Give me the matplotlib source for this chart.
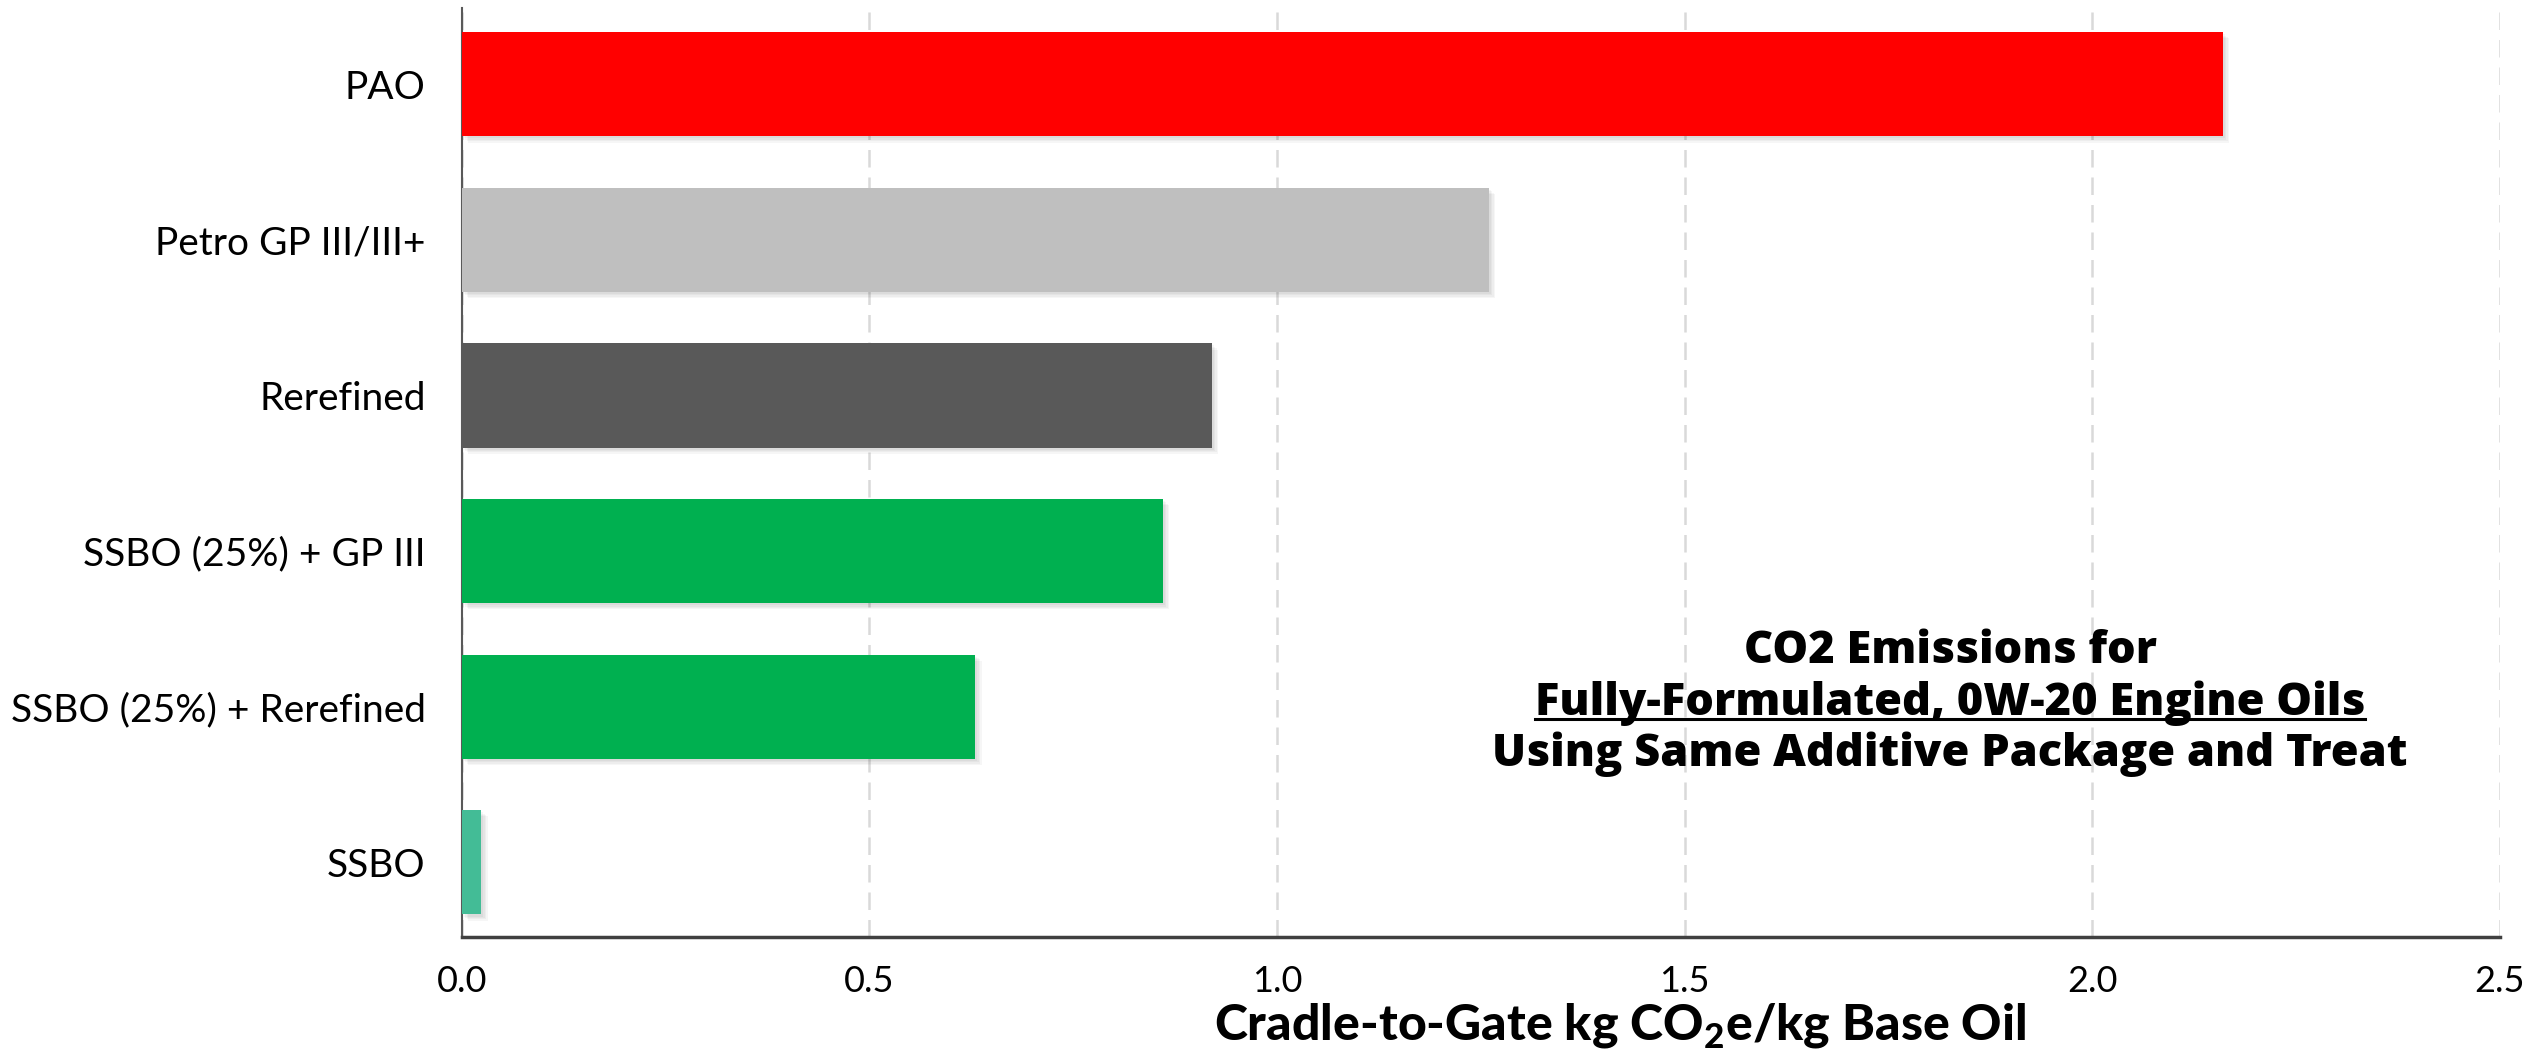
import matplotlib
matplotlib.use('Agg')
import matplotlib.pyplot as plt
import matplotlib.patheffects as pe
from matplotlib.lines import Line2D

# data
categories = ['PAO', 'Petro GP III/III+', 'Rerefined', 'SSBO (25%) + GP III',
              'SSBO (25%) + Rerefined', 'SSBO']
values = [2.16, 1.26, 0.92, 0.86, 0.63, 0.024]
colors = ['#FF0000', '#BFBFBF', '#595959', '#00B050', '#00B050', '#43BC96']
xticks = [0.0, 0.5, 1.0, 1.5, 2.0, 2.5]

note_lines = ['CO2 Emissions for',
              'Fully-Formulated, 0W-20 Engine Oils',
              'Using Same Additive Package and Treat']

plt.rcParams['font.family'] = ['Lato', 'DejaVu Sans']
plt.rcParams['mathtext.fontset'] = 'custom'
plt.rcParams['mathtext.rm'] = 'Lato'
plt.rcParams['mathtext.bf'] = 'Lato:black'

W, H = 2539, 1049
fig = plt.figure(figsize=(W / 100, H / 100), dpi=100)
ax = fig.add_axes([461.7 / W, 1 - 937 / H, (2500 - 461.7) / W, 929 / H])

# soft drop shadow, faked with a few offset layers
shadow = [pe.SimplePatchShadow(offset=(d, -d), shadow_rgbFace='k', alpha=0.035)
          for d in (1.5, 2.5, 3.5, 4.5)] + [pe.Normal()]

ypos = list(range(len(categories)))
bars = ax.barh(ypos, values, height=0.67, color=colors, zorder=3)
for b in bars:
    b.set_path_effects(shadow)

ax.set_xlim(0, 2.5)
ax.set_ylim(5.48, -0.49)
ax.set_xticks(xticks)
ax.set_xticklabels(['%.1f' % t for t in xticks])
ax.set_yticks(ypos)
ax.set_yticklabels(categories)
ax.tick_params(axis='both', length=0, colors='black')
ax.tick_params(axis='x', pad=20, labelsize=26)
ax.tick_params(axis='y', pad=26, labelsize=28)

ax.grid(axis='x', color='#D9D9D9', linestyle=(0, (7, 4)), linewidth=1.8, zorder=0)
ax.grid(axis='y', visible=False)
for s in ['top', 'right']:
    ax.spines[s].set_visible(False)
ax.spines['left'].set_color('#595959')
ax.spines['left'].set_linewidth(1.5)
ax.spines['bottom'].set_color('#404040')
ax.spines['bottom'].set_linewidth(2.5)
ax.set_axisbelow(True)

# x label (sits right of the axes centre in the original)
fig.text(1620 / W, 1 - 1040 / H, r'Cradle-to-Gate kg CO$_{\mathbf{2}}$e/kg Base Oil',
         ha='center', va='baseline', fontsize=36, fontweight='black')

# note block, middle line underlined
note_x = 1950 / W
baselines = [663, 715, 766]
texts = []
for line, yb in zip(note_lines, baselines):
    t = fig.text(note_x, 1 - yb / H, line, ha='center', va='baseline',
                 fontsize=32.5, fontweight='heavy', family=['Open Sans', 'DejaVu Sans'])
    texts.append(t)

fig.canvas.draw()
bb = texts[1].get_window_extent()
uy = 1 - 719 / H
fig.add_artist(Line2D([bb.x0 / W, bb.x1 / W], [uy, uy], color='black',
                      linewidth=2.2, transform=fig.transFigure))

fig.savefig('out.png', dpi=100, facecolor='white')
